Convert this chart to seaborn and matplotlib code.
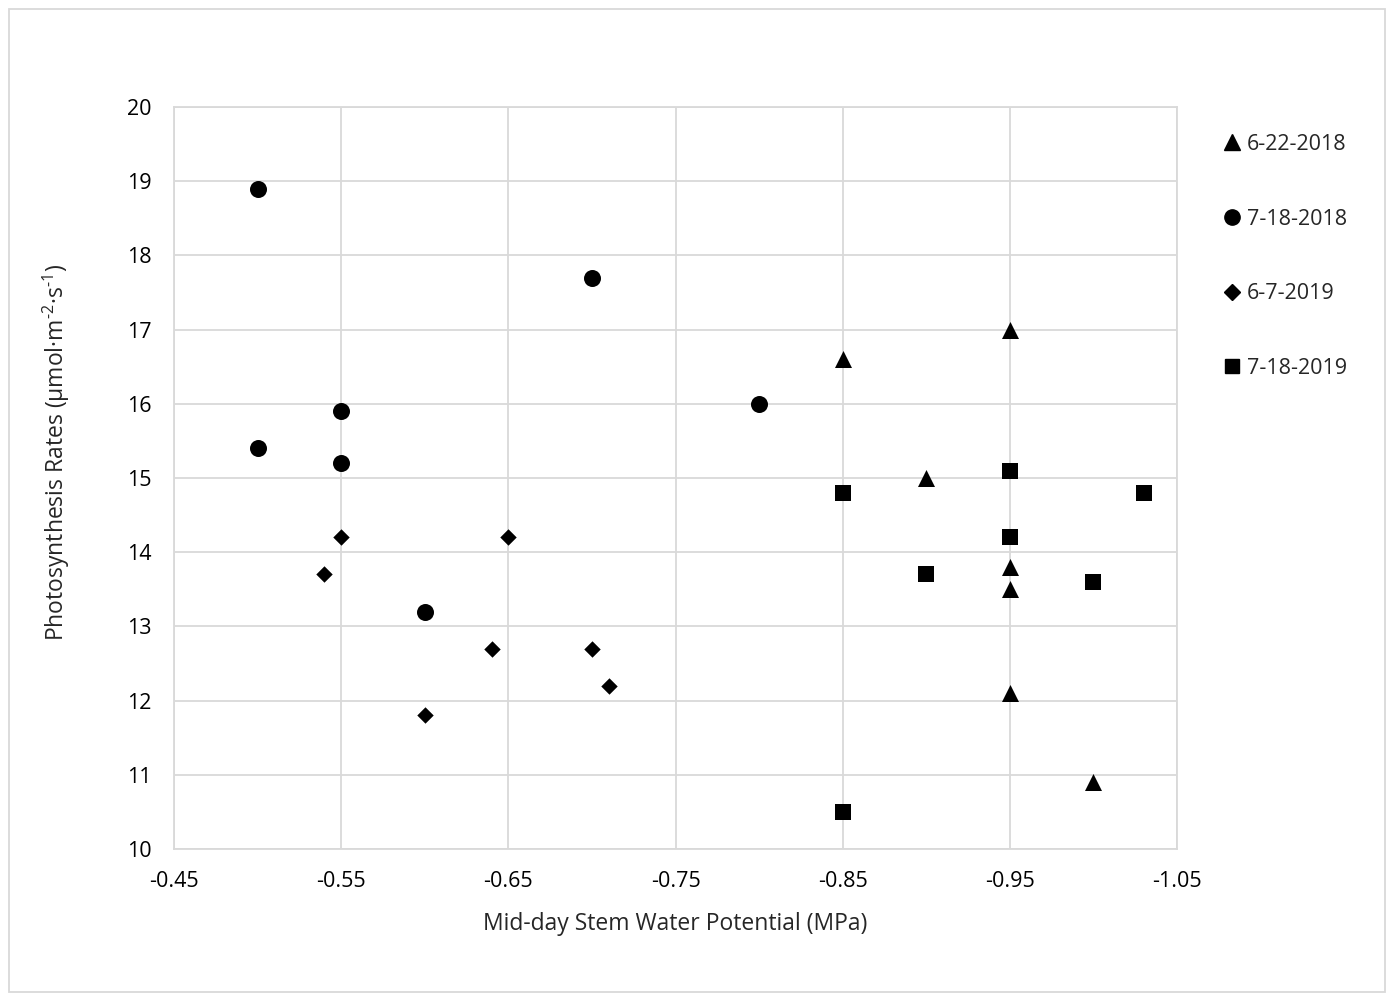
import matplotlib
matplotlib.use("Agg")
import matplotlib.pyplot as plt
import seaborn as sns
import pandas as pd
from matplotlib.patches import Rectangle
from matplotlib.lines import Line2D

series_names = ["6-22-2018", "7-18-2018", "6-7-2019", "7-18-2019"]

x_6_22_2018 = [-0.85, -0.95, -0.90, -0.95, -0.95, -0.95, -1.00]
y_6_22_2018 = [16.6, 17.0, 15.0, 13.8, 13.5, 12.1, 10.9]

x_7_18_2018 = [-0.50, -0.70, -0.80, -0.55, -0.50, -0.55, -0.60]
y_7_18_2018 = [18.9, 17.7, 16.0, 15.9, 15.4, 15.2, 13.2]

x_6_7_2019 = [-0.55, -0.54, -0.65, -0.64, -0.70, -0.71, -0.60]
y_6_7_2019 = [14.2, 13.7, 14.2, 12.7, 12.7, 12.2, 11.8]

x_7_18_2019 = [-0.85, -0.95, -0.95, -0.90, -1.00, -1.03, -0.85]
y_7_18_2019 = [14.8, 15.1, 14.2, 13.7, 13.6, 14.8, 10.5]

x_ticks = [-0.45, -0.55, -0.65, -0.75, -0.85, -0.95, -1.05]
y_ticks = [10, 11, 12, 13, 14, 15, 16, 17, 18, 19, 20]

xs = [x_6_22_2018, x_7_18_2018, x_6_7_2019, x_7_18_2019]
ys = [y_6_22_2018, y_7_18_2018, y_6_7_2019, y_7_18_2019]
rows = []
for name, xv, yv in zip(series_names, xs, ys):
    for a, b in zip(xv, yv):
        rows.append({"x": a, "y": b, "series": name})
df = pd.DataFrame(rows)

sns.set_style("white")
plt.rcParams["font.family"] = ["Open Sans", "DejaVu Sans"]
plt.rcParams["mathtext.fontset"] = "custom"
plt.rcParams["mathtext.rm"] = "Open Sans"
plt.rcParams["mathtext.it"] = "Open Sans"
plt.rcParams["axes.unicode_minus"] = False

fig = plt.figure(figsize=(13.95, 10.01), dpi=100)
ax = fig.add_axes([174/1395, 1-849/1001, (1177-174)/1395, (849-107)/1001])

markers = {"6-22-2018": "^", "7-18-2018": "o", "6-7-2019": "D", "7-18-2019": "s"}
sizes = {"6-22-2018": 150, "7-18-2018": 150, "6-7-2019": 70, "7-18-2019": 120}
for name in series_names:
    sub = df[df["series"] == name]
    sns.scatterplot(data=sub, x="x", y="y", marker=markers[name], s=sizes[name],
                    color="black", edgecolor="black", linewidth=0, ax=ax, legend=False, zorder=3)

ax.set_xlim(-0.45, -1.05)
ax.set_ylim(10, 20)
ax.set_xticks(x_ticks)
ax.set_xticklabels([f"{v:.2f}" for v in x_ticks])
ax.set_yticks(y_ticks)
ax.grid(True, color="#d9d9d9", linewidth=1.3)
ax.set_axisbelow(True)
for sp in ax.spines.values():
    sp.set_color("#d9d9d9")
    sp.set_linewidth(1.3)
ax.tick_params(axis="both", length=0, labelsize=15.5, colors="black")
ax.tick_params(axis="x", pad=16)
ax.tick_params(axis="y", pad=16)
ax.set_xlabel("Mid-day Stem Water Potential (MPa)", fontsize=16.5, labelpad=14)
ax.set_ylabel(r"Photosynthesis Rates (µmol·m$^{\text{-2}}$·s$^{\text{-1}}$)", fontsize=16.5)
ax.yaxis.set_label_coords((72 - 174) / 1003, (849 - 452) / 742)

handles = [Line2D([], [], linestyle="none", marker=markers[n], color="black",
                  markersize={"^": 11, "o": 11, "D": 8, "s": 10}[markers[n]]) for n in series_names]
fig.legend(handles, series_names, loc="upper left", bbox_to_anchor=(1223/1395, 1-134/1001),
           frameon=False, fontsize=15.5, labelspacing=2.49, handlelength=0.8, handletextpad=0.3,
           borderaxespad=0, borderpad=0)

fig.patches.append(Rectangle((9/1395, 9/1001), 1376/1395, 983/1001, transform=fig.transFigure,
                             fill=False, edgecolor="#d9d9d9", linewidth=1.3))

fig.savefig("out.png", dpi=100, facecolor="white")
